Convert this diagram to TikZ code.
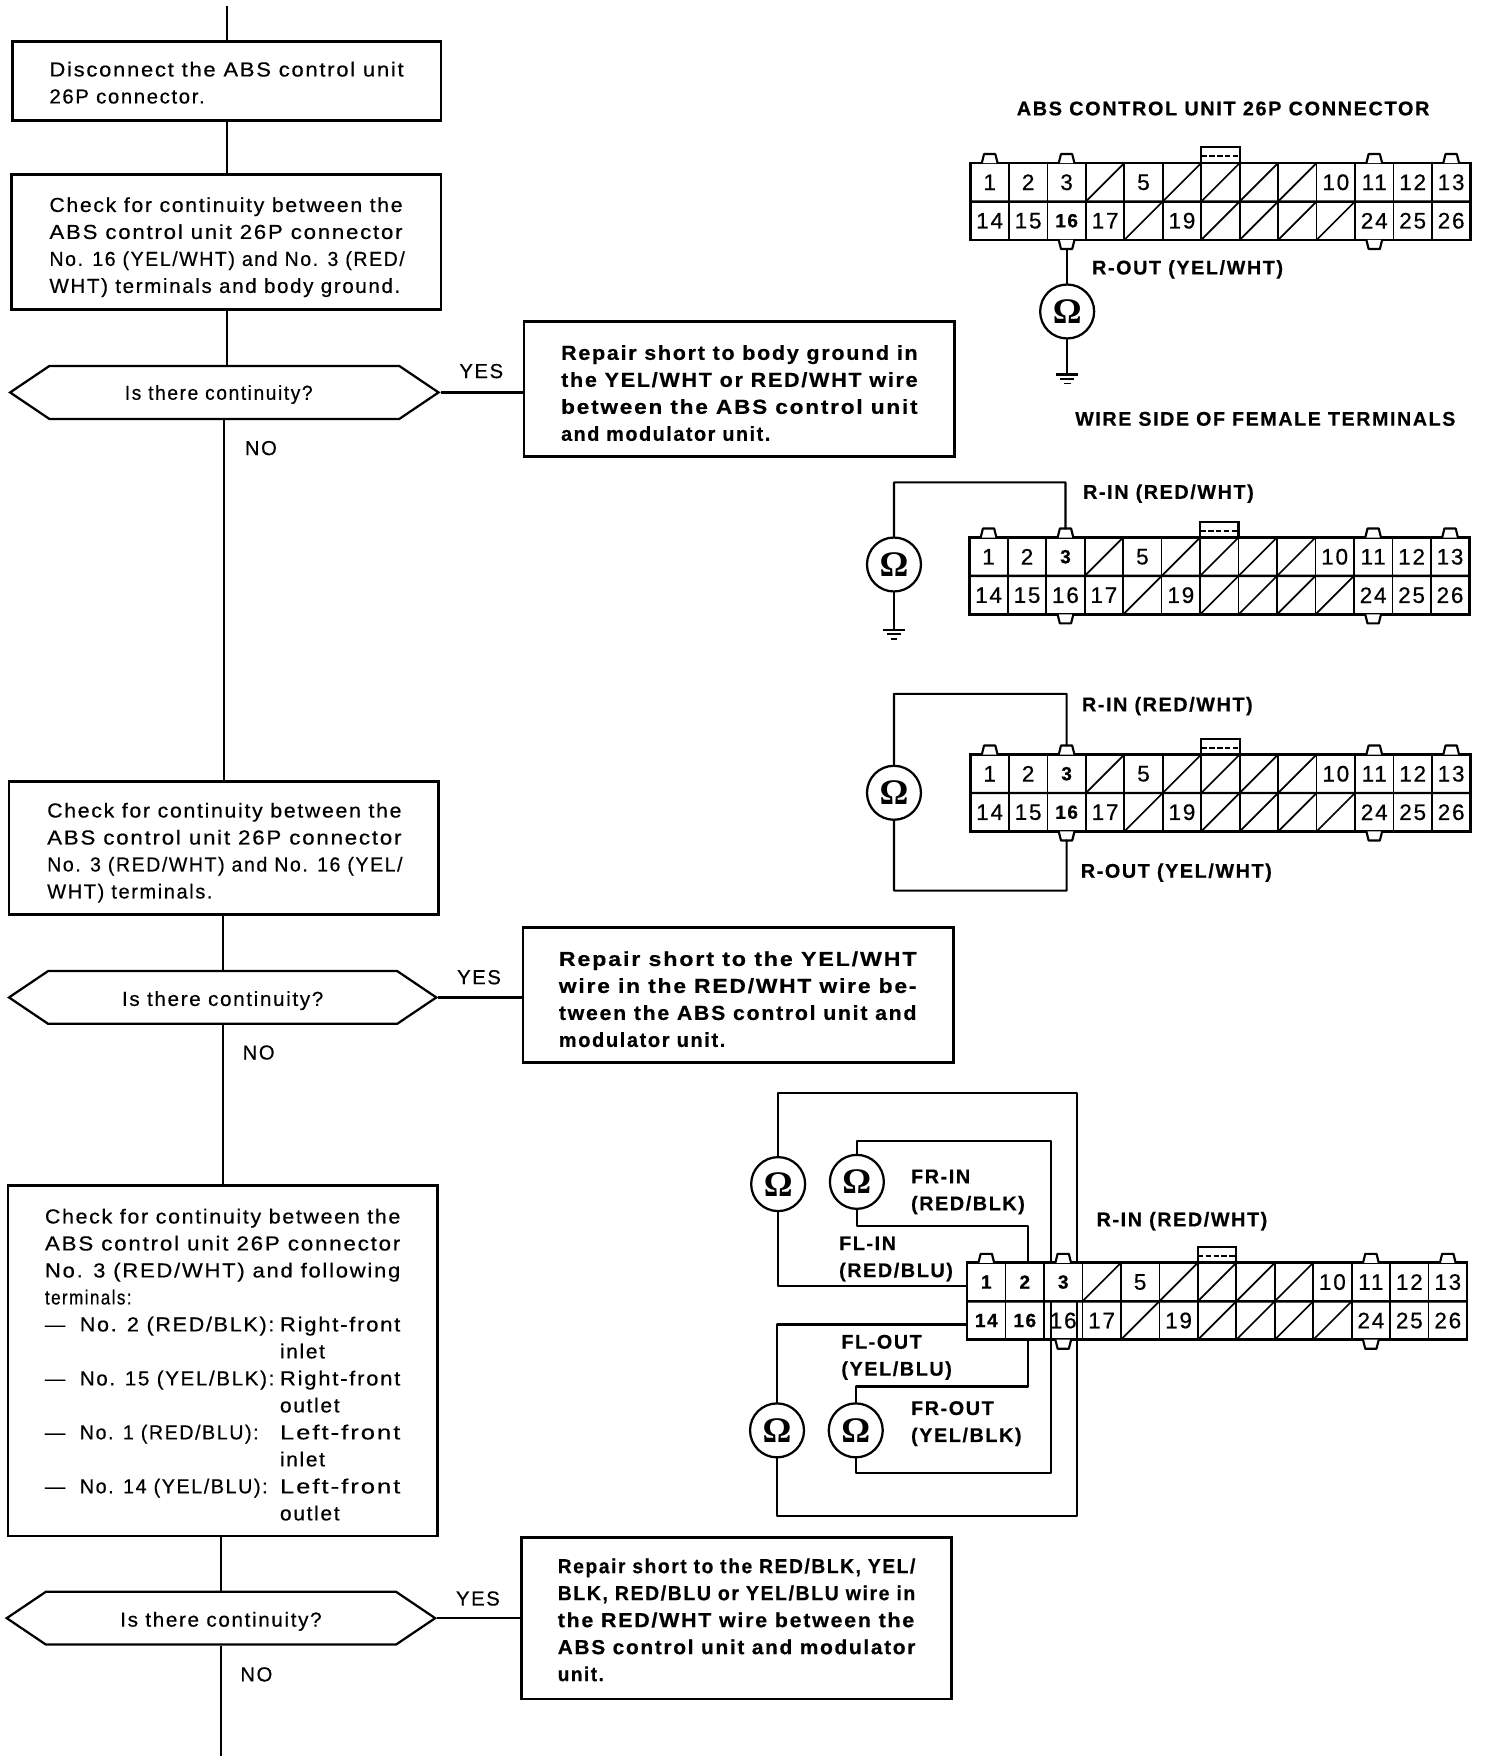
\documentclass[tikz,border=0pt]{standalone}
\usepackage{graphicx}
\usepackage{fontspec}
\setmainfont[LetterSpace=8,FakeBold=0.5]{Liberation Sans}
\newfontfamily\omfont{Liberation Serif}
\usetikzlibrary{calc,shapes.symbols}
\makeatletter
\newcommand\ifinlist[4]{\edef\tmp@in{\noexpand\in@{,#1,}{,#2,}}\tmp@in\ifin@ #3\else #4\fi}
\makeatother
\tikzset{
  x=1pt,y=-1pt,
  wire/.style={line width=1.9pt,line cap=round,line join=round},
  flow/.style={line width=1.9pt},
  boxn/.style={draw,line width=2.3pt,rectangle,anchor=north west,inner sep=0pt,outer sep=0pt},
  hexn/.style={draw,line width=2pt,signal,signal to=west and east,signal pointer angle=68,inner sep=0pt,minimum height=47pt},
  meter/.style={draw,circle,line width=2pt,minimum size=48pt,inner sep=0pt,font=\omfont\bfseries\fontsize{32}{32}\selectfont},
  pin/.style={draw,line width=1.5pt,rectangle,minimum width=34.2pt,minimum height=34.2pt,inner sep=0pt,outer sep=0pt,font=\fontsize{20}{22}\selectfont},
  lab/.style={anchor=west,inner sep=0pt,font=\bfseries\fontsize{17.6}{24}\selectfont,align=left},
  plain/.style={anchor=center,inner sep=0pt,font=\fontsize{18}{24}\selectfont}
}
% one line stretched to its measured width
\newcommand\fw[2]{\resizebox{#1pt}{\height}{#2}}
% text block: block width, downward offset, lines
\newcommand\txt[3]{\raisebox{-#2pt}[0pt][0pt]{\makebox[#1pt][l]{\fontsize{18}{24}\selectfont\begin{tabular}{@{}l@{}}#3\end{tabular}}}}
\newcommand\txtb[3]{\raisebox{-#2pt}[0pt][0pt]{\makebox[#1pt][l]{\fontsize{18}{24}\selectfont\bfseries\begin{tabular}{@{}l@{}}#3\end{tabular}}}}
\newcommand\opt[2]{\makebox[31pt][l]{---}\makebox[178pt][l]{\fw{#1}{#2}}}
\newcommand\cont[2]{\makebox[209pt][l]{}\fw{#1}{#2}}
\newcommand\hextext[2]{\raisebox{-#2pt}[0pt][0pt]{\fontsize{18}{24}\selectfont\fw{#1}{Is there continuity?}}}
% connector: id, left, top, bold list
\newcommand\connector[4]{%
  \foreach \k in {1,...,26}{%
    \pgfmathtruncatemacro\row{\k>13?1:0}%
    \pgfmathtruncatemacro\col{\k-13*\row}%
    \pgfmathsetmacro\cx{#2+(\col-0.5)*34.2}%
    \pgfmathsetmacro\cy{#3+17.1+34.2*\row}%
    \ifinlist{\k}{4,6,7,8,9,18,20,21,22,23}{%
      \node[pin] (c#1-\k) at (\cx,\cy) {};
      \draw[line width=1.5pt] (c#1-\k.south west) -- (c#1-\k.north east);
    }{%
      \ifinlist{\k}{#4}{%
        \node[pin,font=\bfseries\fontsize{17}{22}\selectfont] (c#1-\k) at (\cx,\cy) {\ifnum\k=15 \labfifteen\else\k\fi};
      }{%
        \node[pin] (c#1-\k) at (\cx,\cy) {\k};
      }%
    }%
  }%
  \draw[line width=2.4pt] (c#1-1.north west) rectangle (c#1-26.south east);
  \draw[line width=2.2pt] (c#1-14.north west) -- (c#1-13.south east);
  \foreach \k in {1,3,11,13}{%
    \coordinate (c#1-t\k) at ($(c#1-\k.north)+(0,-8)$);
    \draw[wire,fill=white] (c#1-\k.north) ++(-7,0) -- ++(2,-8) -- ++(10,0) -- ++(2,8);
  }%
  \foreach \k in {16,24}{%
    \coordinate (c#1-t\k) at ($(c#1-\k.south)+(0,8)$);
    \draw[wire,fill=white] (c#1-\k.south) ++(-7,0) -- ++(2,8) -- ++(10,0) -- ++(2,-8);
  }%
  \draw[line width=2pt] (c#1-7.north west) -- ++(0,-14) -- ($(c#1-7.north east)+(0,-14)$) -- (c#1-7.north east);
  \draw[line width=1.6pt,dashed,dash pattern=on 5pt off 2pt] ($(c#1-7.north west)+(0,-6)$) -- ($(c#1-7.north east)+(0,-6)$);
}
\newcommand\gnd[1]{%
  \draw[line width=1.9pt] (#1) ++(-10,0) -- ++(20,0);
  \draw[line width=1.5pt] (#1) ++(-6,4) -- ++(12,0);
  \draw[line width=1.5pt] (#1) ++(-3,8) -- ++(6,0);
}
\begin{document}
\begin{tikzpicture}
\useasboundingbox (0,0) rectangle (1323.3,1568.7);
\fill[white] (0,0) rectangle (1323.3,1568.7);
\def\labfifteen{15}

% ---------- flow boxes
\node[boxn,minimum width=381pt,minimum height=70pt] (b1) at (11,37) {\txt{315}{7.5}{\fw{315}{Disconnect the ABS control unit}\\\fw{138}{26P connector.}}};
\node[boxn,minimum width=382pt,minimum height=120pt] (b2) at (10,155) {\txt{314}{9}{\fw{314}{Check for continuity between the}\\\fw{314}{ABS control unit 26P connector}\\\fw{316}{No. 16 (YEL/WHT) and No. 3 (RED/}\\\fw{312}{WHT) terminals and body ground.}}};
\node[hexn,minimum width=381pt] (d1) at (199.5,349) {\hspace*{-10pt}\hextext{167}{6.5}};
\node[boxn,minimum width=383pt,minimum height=120pt] (r1) at (466,286) {\txtb{317}{9.5}{\fw{317}{Repair short to body ground in}\\\fw{317}{the YEL/WHT or RED/WHT wire}\\\fw{317}{between the ABS control unit}\\\fw{186}{and modulator unit.}}};

\node[boxn,minimum width=382pt,minimum height=118pt] (b3) at (8,695) {\txt{314}{8.5}{\fw{315}{Check for continuity between the}\\\fw{315}{ABS control unit 26P connector}\\\fw{316}{No. 3 (RED/WHT) and No. 16 (YEL/}\\\fw{147}{WHT) terminals.}}};
\node[hexn,minimum width=380pt] (d2) at (198,887) {\hextext{179}{7.5}};
\node[boxn,minimum width=383pt,minimum height=120pt] (r2) at (465,825) {\txtb{319}{9.5}{\fw{318}{Repair short to the YEL/WHT}\\\fw{318}{wire in the RED/WHT wire be-}\\\fw{318}{tween the ABS control unit and}\\\fw{148}{modulator unit.}}};

\node[boxn,minimum width=382pt,minimum height=312pt] (b4) at (7,1054) {\txt{316}{9.5}{\fw{316}{Check for continuity between the}\\\fw{316}{ABS control unit 26P connector}\\\fw{316}{No. 3 (RED/WHT) and following}\\\fw{77}{terminals:}\\
\opt{173}{No. 2 (RED/BLK):}\fw{107}{Right-front}\\
\cont{40}{inlet}\\
\opt{173}{No. 15 (YEL/BLK):}\fw{107}{Right-front}\\
\cont{53}{outlet}\\
\opt{159}{No. 1 (RED/BLU):}\fw{107}{Left-front}\\
\cont{40}{inlet}\\
\opt{167}{No. 14 (YEL/BLU):}\fw{107}{Left-front}\\
\cont{53}{outlet}}};
\node[hexn,minimum width=381pt] (d3) at (196.5,1439) {\hextext{179}{7.5}};
\node[boxn,minimum width=382pt,minimum height=144pt] (r3) at (464,1367) {\txtb{318}{7.5}{\fw{318}{Repair short to the RED/BLK, YEL/}\\\fw{318}{BLK, RED/BLU or YEL/BLU wire in}\\\fw{317}{the RED/WHT wire between the}\\\fw{318}{ABS control unit and modulator}\\\fw{41}{unit.}}};

% ---------- flow connectors
\coordinate (top) at (202,5);
\coordinate (bot) at (197,1562);
\draw[flow] (top) -- (top |- b1.north);
\draw[flow] (b1.south -| top) -- (top |- b2.north);
\draw[flow] (b2.south -| top) -- (top |- d1.north);
\draw[flow] (d1.south) -- (d1.south |- b3.north);
\draw[flow] (b3.south -| d2.north) -- (d2.north);
\draw[flow] (d2.south) -- (d2.south |- b4.north);
\draw[flow] (b4.south -| d3.north) -- (d3.north);
\draw[flow] (d3.south) -- (bot -| d3.south);
\draw[flow] (d1.east) -- (r1.west |- d1.east);
\draw[flow] (d2.east) -- (r2.west |- d2.east);
\draw[flow] (d3.east) -- (r3.west |- d3.east);

\node[plain] (y1) at (428,330) {YES};
\node[plain] (y2) at (426,869) {YES};
\node[plain] (y3) at (425,1421.5) {YES};
\node[plain] (n1) at (232,398.5) {NO};
\node[plain] (n2) at (230,936) {NO};
\node[plain] (n3) at (228,1489) {NO};

% ---------- titles
\node[lab] (t1) at (904,96.5) {\fw{367}{ABS CONTROL UNIT 26P CONNECTOR}};
\node[lab] (t2) at (956,372.5) {\fw{338}{WIRE SIDE OF FEMALE TERMINALS}};

% ---------- connector 1
\connector{1}{863}{145}{16}
\node[meter] (m1) at (949,277) {\char"03A9};
\coordinate (g1) at (949,333);
\draw[wire] (m1.north) -- (c1-t16 -| m1.north);
\draw[wire] (m1.south) -- (g1);
\gnd{g1}
\node[lab] (l1) at (971,239.5) {R-OUT (YEL/WHT)};

% ---------- connector 2
\connector{2}{862}{478}{3}
\node[meter] (m2) at (795,502) {\char"03A9};
\coordinate (g2) at (795,560);
\coordinate (w2) at (947.5,429);
\draw[wire] (m2.north) |- (w2) -- (c2-t3);
\draw[wire] (m2.south) -- (g2);
\gnd{g2}
\node[lab] (l2) at (963,439) {R-IN (RED/WHT)};

% ---------- connector 3
\connector{3}{863}{671}{3,16}
\node[meter] (m3) at (795,705) {\char"03A9};
\coordinate (w3a) at (948.5,617);
\coordinate (w3b) at (948.5,792);
\draw[wire] (m3.north) |- (w3a) -- (c3-t3);
\draw[wire] (m3.south) |- (w3b) -- (c3-t16);
\node[lab] (l3a) at (962,628) {R-IN (RED/WHT)};
\node[lab] (l3b) at (961,776) {R-OUT (YEL/WHT)};

% ---------- connector 4
\def\labfifteen{16}
\connector{4}{860}{1123}{1,2,3,14,15}
\node[meter] (m4) at (692,1053) {\char"03A9};
\node[meter] (m5) at (762,1051) {\char"03A9};
\node[meter] (m6) at (691,1272) {\char"03A9};
\node[meter] (m7) at (761,1272) {\char"03A9};
\coordinate (oa) at (958,972);
\coordinate (ob) at (958,1123);
\coordinate (oc) at (958,1158);
\coordinate (od) at (958,1348);
\coordinate (ia) at (935,1015);
\coordinate (ib) at (935,1123);
\coordinate (ic) at (935,1158);
\coordinate (id) at (935,1310);
\coordinate (fa) at (914,1090);
\coordinate (fb) at (914,1233);
\draw[wire] (m4.north) |- (oa) -- (ob);
\draw[wire] (oc) -- (od) -| (m6.south);
\draw[wire] (m5.north) |- (ia) -- (ib);
\draw[wire] (ic) -- (id) -| (m7.south);
\draw[wire] (m5.south) |- (fa) -- (fa |- c4-2.north);
\draw[wire] (m7.north) |- (fb) -- (fb |- c4-15.south);
\draw[wire] (m4.south) |- ($(c4-1.west)+(0,3.5)$);
\draw[wire] (m6.north) |- ($(c4-14.west)+(0,3.5)$);
\node[lab] (l4a) at (810,1060) {FR-IN\\(RED/BLK)};
\node[lab] (l4b) at (746,1119.5) {FL-IN\\(RED/BLU)};
\node[lab] (l4c) at (748,1207) {FL-OUT\\(YEL/BLU)};
\node[lab] (l4d) at (810,1266) {FR-OUT\\(YEL/BLK)};
\node[lab] (l4e) at (975,1086) {R-IN (RED/WHT)};
\end{tikzpicture}
\end{document}
